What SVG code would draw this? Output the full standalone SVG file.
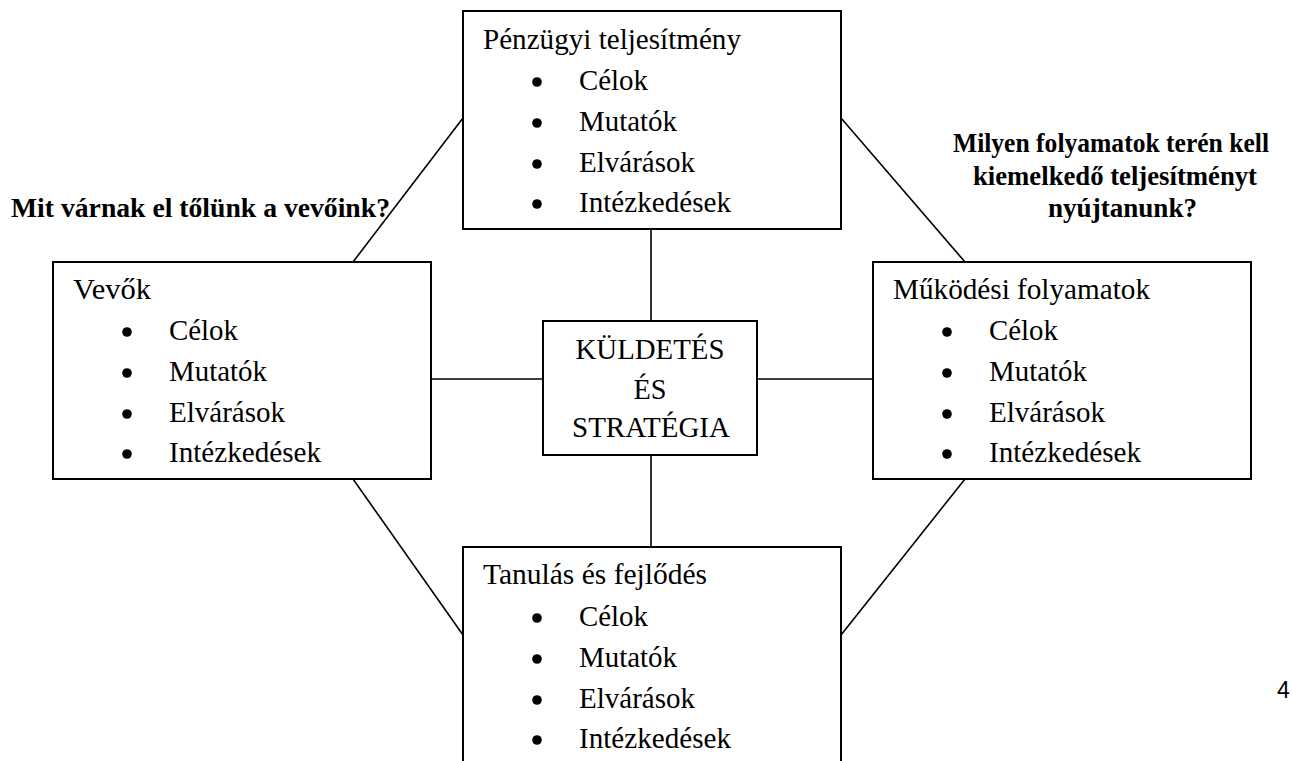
<svg xmlns="http://www.w3.org/2000/svg" width="1292" height="761" viewBox="0 0 1292 761">
<style>
.box{fill:#fff;stroke:#000;stroke-width:2}
.ln{stroke:#000;stroke-width:1.6;fill:none}
.t{font-family:"Liberation Serif","Times New Roman",serif;font-size:28.5px;fill:#000}
.b{font-family:"Liberation Serif","Times New Roman",serif;font-size:26.5px;font-weight:bold;fill:#000}
.c{font-family:"Liberation Serif","Times New Roman",serif;font-size:28.5px;fill:#000;text-anchor:middle}
.pn{font-family:"Liberation Sans",Arial,sans-serif;font-size:23px;fill:#000}
.dot{fill:#000}
</style>
<defs>
<g id="items">
<circle class="dot" cx="74" cy="71" r="4.8"/>
<circle class="dot" cx="74" cy="112" r="4.8"/>
<circle class="dot" cx="74" cy="153" r="4.8"/>
<circle class="dot" cx="74" cy="193" r="4.8"/>
<text class="t" x="116" y="79" textLength="69" lengthAdjust="spacingAndGlyphs">Célok</text>
<text class="t" x="116" y="120" textLength="98" lengthAdjust="spacingAndGlyphs">Mutatók</text>
<text class="t" x="116" y="161" textLength="116" lengthAdjust="spacingAndGlyphs">Elvárások</text>
<text class="t" x="116" y="201" textLength="152" lengthAdjust="spacingAndGlyphs">Intézkedések</text>
</g>
</defs>
<rect width="1292" height="761" fill="#fff"/>
<g id="connectors">
<line class="ln" x1="651" y1="229" x2="651" y2="321"/>
<line class="ln" x1="651" y1="455" x2="651" y2="547"/>
<line class="ln" x1="431" y1="379" x2="543" y2="379"/>
<line class="ln" x1="757" y1="379" x2="873" y2="379"/>
<line class="ln" x1="353" y1="262" x2="463" y2="118"/>
<line class="ln" x1="841" y1="118" x2="965" y2="262"/>
<line class="ln" x1="353" y1="479" x2="463" y2="635"/>
<line class="ln" x1="841" y1="635" x2="965" y2="479"/>
</g>
<g id="penzugyi" transform="translate(463,11)">
<rect class="box" x="0" y="0" width="378" height="218"/>
<text class="t" x="20" y="38" textLength="258" lengthAdjust="spacingAndGlyphs">Pénzügyi teljesítmény</text>
<use href="#items"/>
</g>
<g id="vevok" transform="translate(53,262)">
<rect class="box" x="0" y="0" width="378" height="217"/>
<text class="t" x="20" y="37" textLength="78" lengthAdjust="spacingAndGlyphs">Vevők</text>
<use href="#items" transform="translate(0,-1)"/>
</g>
<g id="mukodesi" transform="translate(873,262)">
<rect class="box" x="0" y="0" width="378" height="217"/>
<text class="t" x="20" y="37" textLength="257" lengthAdjust="spacingAndGlyphs">Működési folyamatok</text>
<use href="#items" transform="translate(0,-1)"/>
</g>
<g id="tanulas" transform="translate(463,547)">
<rect class="box" x="0" y="0" width="378" height="230"/>
<text class="t" x="20" y="37" textLength="224" lengthAdjust="spacingAndGlyphs">Tanulás és fejlődés</text>
<use href="#items"/>
</g>
<g id="kuldetes">
<rect class="box" x="543" y="321" width="214" height="134"/>
<text class="c" x="650" y="359" textLength="149" lengthAdjust="spacingAndGlyphs">KÜLDETÉS</text>
<text class="c" x="650" y="399" textLength="33" lengthAdjust="spacingAndGlyphs">ÉS</text>
<text class="c" x="651" y="437" textLength="158" lengthAdjust="spacingAndGlyphs">STRATÉGIA</text>
</g>
<g id="label-vevok">
<text class="b" x="11" y="217" textLength="379" lengthAdjust="spacingAndGlyphs">Mit várnak el tőlünk a vevőink?</text>
</g>
<g id="label-folyamatok">
<text class="b" x="953" y="152" textLength="316" lengthAdjust="spacingAndGlyphs">Milyen folyamatok terén kell</text>
<text class="b" x="973" y="185" textLength="284" lengthAdjust="spacingAndGlyphs">kiemelkedő teljesítményt</text>
<text class="b" x="1048" y="217" textLength="149" lengthAdjust="spacingAndGlyphs">nyújtanunk?</text>
</g>
<g id="page-number">
<text class="pn" x="1277" y="698">4</text>
</g>
</svg>
